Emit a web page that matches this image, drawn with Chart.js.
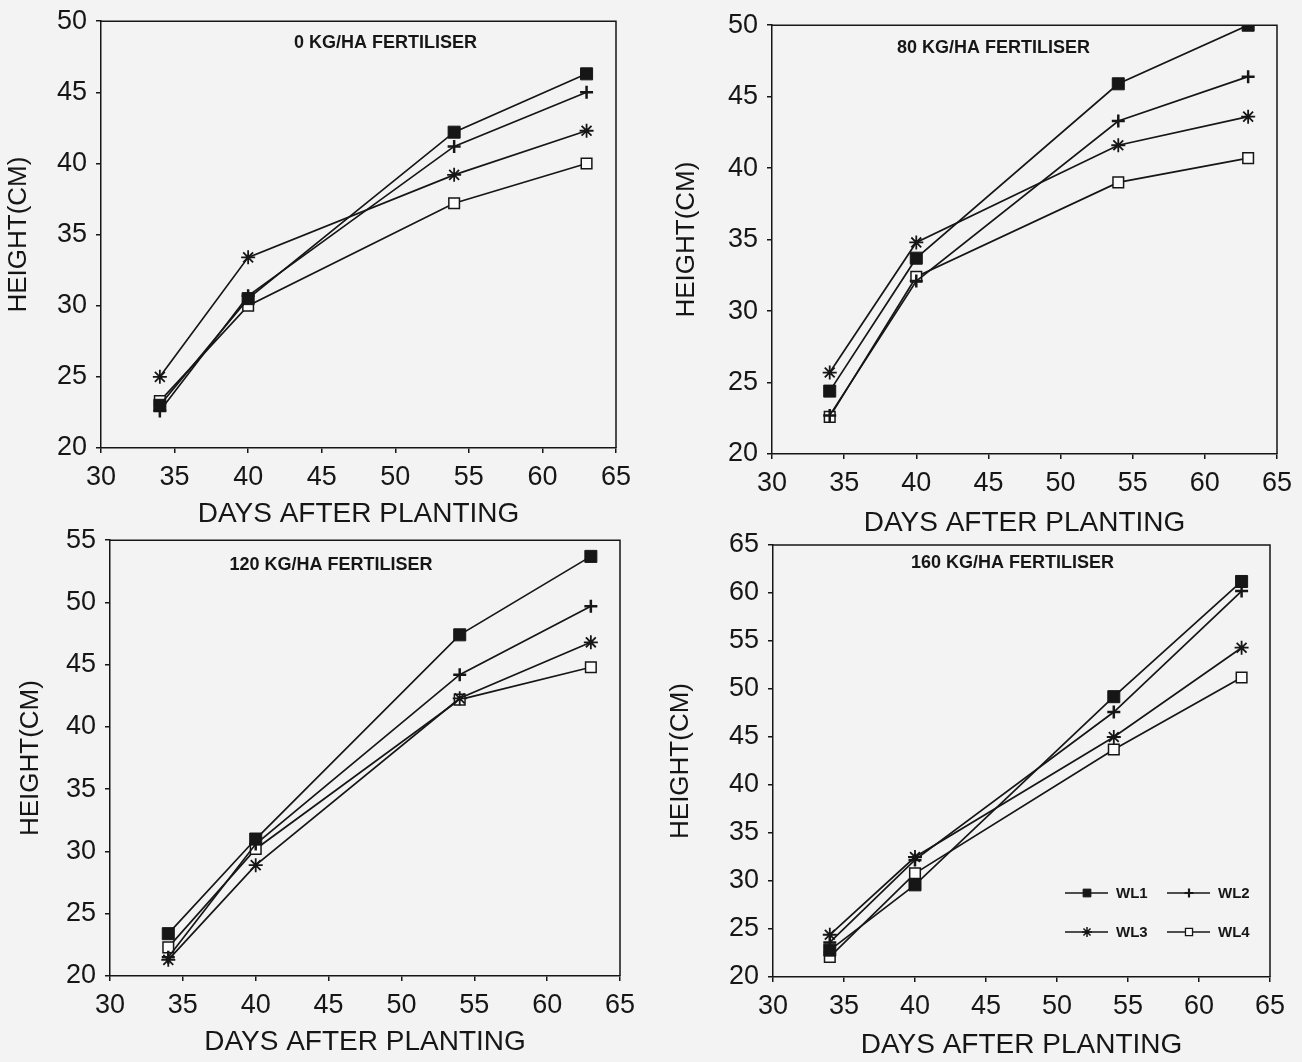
<!DOCTYPE html>
<html>
<head>
<meta charset="utf-8">
<script src="https://cdn.jsdelivr.net/npm/chart.js@4.4.0/dist/chart.umd.min.js"></script>
<style>
  html, body { margin: 0; padding: 0; background: #f3f3f3; }
  body { width: 1302px; height: 1062px; position: relative; overflow: hidden; }
  .panel { position: absolute; }
</style>
</head>
<body>
<div class="panel" style="left:0px;top:-4px"><canvas id="p0" width="650" height="539"></canvas></div>
<div class="panel" style="left:655px;top:0px"><canvas id="p80" width="647" height="540"></canvas></div>
<div class="panel" style="left:0px;top:515px"><canvas id="p120" width="650" height="547"></canvas></div>
<div class="panel" style="left:655px;top:515px"><canvas id="p160" width="647" height="547"></canvas></div>
<script>
// days after planting (x values shared by every panel)
const days = [34, 40, 54, 63];
const seriesNames = ['WL1', 'WL2', 'WL3', 'WL4'];

// plant height (cm)
const wl1At0 = [23.0, 30.5, 42.2, 46.3];
const wl2At0 = [22.6, 30.7, 41.2, 45.0];
const wl3At0 = [25.0, 33.4, 39.2, 42.3];
const wl4At0 = [23.3, 30.0, 37.2, 40.0];

const wl1At80 = [24.4, 33.7, 45.9, 50.0];
const wl2At80 = [22.7, 32.1, 43.3, 46.4];
const wl3At80 = [25.7, 34.8, 41.6, 43.6];
const wl4At80 = [22.6, 32.4, 39.0, 40.7];

const wl1At120 = [23.4, 31.0, 47.4, 53.7];
const wl2At120 = [21.5, 30.6, 44.2, 49.7];
const wl3At120 = [21.3, 28.9, 42.3, 46.8];
const wl4At120 = [22.3, 30.2, 42.2, 44.8];

const wl1At160 = [22.8, 29.6, 49.2, 61.2];
const wl2At160 = [23.6, 32.2, 47.6, 60.2];
const wl3At160 = [24.4, 32.5, 45.0, 54.3];
const wl4At160 = [22.1, 30.8, 43.7, 51.2];

const xTicks = [30, 35, 40, 45, 50, 55, 60, 65];

const INK = '#161616';
const FONT = "'Liberation Sans', Arial, sans-serif";

const markerStyles = [
  { pointStyle: 'rect', pointRadius: 8.5, pointBackgroundColor: INK, pointBorderWidth: 1 },
  { pointStyle: 'cross', pointRadius: 6.5, pointBackgroundColor: INK, pointBorderWidth: 2.5 },
  { pointStyle: 'star', pointRadius: 7, pointBackgroundColor: INK, pointBorderWidth: 1.8 },
  { pointStyle: 'rect', pointRadius: 7.5, pointBackgroundColor: '#fbfbfb', pointBorderWidth: 1.5 }
];
const legendMarkers = [
  { pointStyle: 'rect', radius: 5.5, fill: INK, borderWidth: 1 },
  { pointStyle: 'cross', radius: 4.5, fill: INK, borderWidth: 2.2 },
  { pointStyle: 'star', radius: 5, fill: INK, borderWidth: 1.5 },
  { pointStyle: 'rect', radius: 5, fill: '#fbfbfb', borderWidth: 1.3 }
];

// frame (top + right edge), inner title and optional legend
const framePlugin = {
  id: 'frame',
  beforeDatasetsDraw(chart) {
    const a = chart.chartArea, ctx = chart.ctx;
    ctx.save();
    ctx.strokeStyle = INK;
    ctx.lineWidth = 1.5;
    ctx.beginPath();
    ctx.moveTo(a.left, a.top);
    ctx.lineTo(a.right, a.top);
    ctx.lineTo(a.right, a.bottom);
    ctx.stroke();
    ctx.restore();
  },
  afterDraw(chart, args, opts) {
    const a = chart.chartArea, ctx = chart.ctx;
    ctx.save();
    ctx.fillStyle = INK;
    ctx.font = 'bold 18px ' + FONT;
    ctx.textAlign = 'center';
    ctx.textBaseline = 'middle';
    ctx.fillText(opts.title, (a.left + a.right) / 2 + opts.titleDx, a.top + opts.titleDy);

    if (opts.legend) {
      const cols = [-205, -103];
      const rows = [-84, -45];
      ctx.font = 'bold 15px ' + FONT;
      ctx.textAlign = 'left';
      seriesNames.forEach((name, i) => {
        const x0 = a.right + cols[i % 2];
        const y = a.bottom + rows[Math.floor(i / 2)];
        ctx.strokeStyle = INK;
        ctx.lineWidth = 1.4;
        ctx.beginPath();
        ctx.moveTo(x0, y);
        ctx.lineTo(x0 + 43, y);
        ctx.stroke();
        const m = legendMarkers[i];
        ctx.fillStyle = m.fill;
        ctx.lineWidth = m.borderWidth;
        Chart.helpers.drawPoint(ctx, { pointStyle: m.pointStyle, radius: m.radius, borderWidth: m.borderWidth, rotation: 0 }, x0 + 22, y);
        ctx.fillStyle = INK;
        ctx.fillText(name, x0 + 51, y + 1);
      });
    }
    ctx.restore();
  }
};

function makePanel(id, series, yMax, p) {
  const datasets = series.map((vals, i) => Object.assign({
    label: seriesNames[i],
    data: days.map((d, j) => ({ x: d, y: vals[j] })),
    borderColor: INK,
    borderWidth: 1.7,
    pointBorderColor: INK,
    tension: 0
  }, markerStyles[i]));

  return new Chart(document.getElementById(id), {
    type: 'line',
    data: { datasets: datasets },
    plugins: [framePlugin],
    options: {
      responsive: false,
      animation: false,
      layout: { padding: { top: p.padTop, right: p.padRight, left: 0, bottom: 0 } },
      scales: {
        x: {
          type: 'linear',
          min: 30,
          max: 65,
          afterBuildTicks: s => { s.ticks = xTicks.map(v => ({ value: v })); },
          afterFit: s => { s.height = p.xAxisH; },
          grid: { display: true, drawOnChartArea: false, drawTicks: true, tickLength: 5, color: INK, lineWidth: 1.5 },
          border: { display: true, color: INK, width: 1.5 },
          ticks: { color: INK, font: { family: FONT, size: 27 }, padding: 8, maxRotation: 0 },
          title: { display: true, text: 'DAYS AFTER PLANTING', color: INK, font: { family: FONT, size: 28 }, padding: { top: 0, bottom: p.xTitlePad } }
        },
        y: {
          min: 20,
          max: yMax,
          ticks: { stepSize: 5, color: INK, font: { family: FONT, size: 27 }, padding: 9 },
          afterFit: s => { s.width = p.yAxisW; },
          grid: { display: true, drawOnChartArea: false, drawTicks: true, tickLength: 5, color: INK, lineWidth: 1.5 },
          border: { display: true, color: INK, width: 1.5 },
          title: { display: true, text: 'HEIGHT(CM)', color: INK, font: { family: FONT, size: 26 }, padding: { top: p.yTitlePad, bottom: 0 } }
        }
      },
      plugins: {
        legend: { display: false },
        tooltip: { enabled: false },
        frame: { title: p.title, titleDx: p.titleDx, titleDy: p.titleDy, legend: !!p.legend }
      }
    }
  });
}

makePanel('p0', [wl1At0, wl2At0, wl3At0, wl4At0], 50, {
  title: '0 KG/HA FERTILISER', titleDx: 27, titleDy: 22,
  padTop: 20, padRight: 34, yAxisW: 101, xAxisH: 87, yTitlePad: 3, xTitlePad: 4
});
makePanel('p80', [wl1At80, wl2At80, wl3At80, wl4At80], 50, {
  title: '80 KG/HA FERTILISER', titleDx: -31, titleDy: 23,
  padTop: 24, padRight: 25, yAxisW: 117, xAxisH: 86, yTitlePad: 16, xTitlePad: 0
});
makePanel('p120', [wl1At120, wl2At120, wl3At120, wl4At120], 55, {
  title: '120 KG/HA FERTILISER', titleDx: -34, titleDy: 25,
  padTop: 25, padRight: 30, yAxisW: 110, xAxisH: 86, yTitlePad: 15, xTitlePad: 3
});
makePanel('p160', [wl1At160, wl2At160, wl3At160, wl4At160], 65, {
  title: '160 KG/HA FERTILISER', titleDx: -9, titleDy: 18,
  padTop: 30, padRight: 32, yAxisW: 118, xAxisH: 85, yTitlePad: 10, xTitlePad: 0, legend: true
});
</script>
</body>
</html>
